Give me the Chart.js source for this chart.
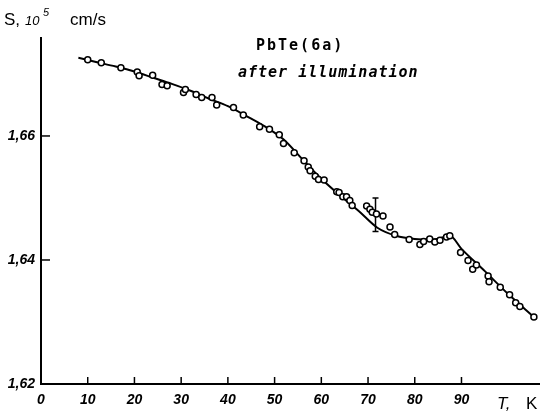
<!DOCTYPE html>
<html>
<head>
<meta charset="utf-8">
<script src="https://cdn.jsdelivr.net/npm/chart.js@4.4.1/dist/chart.umd.min.js"></script>
<style>
  body { margin: 0; background: #fff; }
  #wrap { width: 545px; height: 413px; }
</style>
</head>
<body>
<div id="wrap"><canvas id="chart" width="545" height="413"></canvas></div>
<script>
// measured points, T in K and S in 10^5 cm/s
const tPoints = [10.0, 12.9, 17.1, 20.6, 21.0, 23.9, 25.9, 27.0, 30.5, 30.9, 33.2, 34.4, 36.6, 37.6,
    41.2, 43.3, 46.8, 48.9, 51.0, 51.9, 54.2, 56.3, 57.2, 57.6, 58.7, 59.4, 60.6,
    63.3, 63.8, 64.6, 65.4, 66.1, 66.6, 69.7, 70.4, 70.9, 71.8, 73.2,
    74.7, 75.7, 78.8, 81.1, 81.9, 83.2, 84.3, 85.4, 86.8, 87.5,
    89.8, 91.4, 92.4, 93.2, 95.7, 95.9, 98.3, 100.3, 101.6, 102.5, 105.5];
const sPoints = [1.6723, 1.6718, 1.6710, 1.6703, 1.6697, 1.6698, 1.6683, 1.6681, 1.6670, 1.6675, 1.6667, 1.6662, 1.6662, 1.6650,
    1.6646, 1.6634, 1.6615, 1.6611, 1.6602, 1.6588, 1.6573, 1.6560, 1.6550, 1.6544, 1.6535, 1.6530, 1.6529,
    1.6510, 1.6509, 1.6502, 1.6502, 1.6496, 1.6488, 1.6487, 1.6482, 1.6477, 1.6474, 1.6471,
    1.6453, 1.6441, 1.6433, 1.6425, 1.6430, 1.6434, 1.6429, 1.6432, 1.6437, 1.6439,
    1.6412, 1.6399, 1.6385, 1.6392, 1.6374, 1.6365, 1.6356, 1.6344, 1.6331, 1.6325, 1.6308];

// smooth fitted curve
const tCurve = [8, 12, 16, 20, 24, 28, 32, 36, 40, 44, 48, 52, 56, 60, 64, 68, 72, 76, 80, 84, 87.5, 90, 95, 100, 105.5];
const sCurve = [1.6726, 1.6719, 1.6712, 1.6704, 1.6694, 1.6684, 1.6673, 1.6660, 1.6648, 1.6632, 1.6615, 1.6594,
    1.6562, 1.6531, 1.6504, 1.6479, 1.6452, 1.6439, 1.6434, 1.6433, 1.6439, 1.6418, 1.6382, 1.6345, 1.6308];

// error bar
const errT = [71.6, 71.6];
const errS = [1.6446, 1.6500];

const yTicks = [1.62, 1.64, 1.66];
const xTicks = [0, 10, 20, 30, 40, 50, 60, 70, 80, 90];

const toXY = (xs, ys) => xs.map((x, i) => ({ x: x, y: ys[i] }));

const tickFont = { family: 'Liberation Sans', size: 14, style: 'italic', weight: 'bold' };

// inward tick marks and text labels
const decorPlugin = {
    id: 'decor',
    afterDraw(chart) {
        const ctx = chart.ctx;
        const xs = chart.scales.x, ys = chart.scales.y;
        const area = chart.chartArea;
        ctx.save();
        ctx.strokeStyle = '#000';
        ctx.lineWidth = 1.5;
        yTicks.forEach(v => {
            if(v === 1.62) return;
            const py = ys.getPixelForValue(v);
            ctx.beginPath();
            ctx.moveTo(area.left, py);
            ctx.lineTo(area.left + 9, py);
            ctx.stroke();
        });
        xTicks.forEach(v => {
            if(v === 0) return;
            const px = xs.getPixelForValue(v);
            ctx.beginPath();
            ctx.moveTo(px, area.bottom);
            ctx.lineTo(px, area.bottom - 7);
            ctx.stroke();
        });

        ctx.fillStyle = '#000';
        ctx.textBaseline = 'alphabetic';
        ctx.textAlign = 'left';
        // y axis title
        ctx.font = '17px "Liberation Sans"';
        ctx.fillText('S,', 4, 25);
        ctx.font = 'italic 13px "Liberation Sans"';
        ctx.fillText('10', 25, 25);
        ctx.font = 'italic 11px "Liberation Sans"';
        ctx.fillText('5', 43, 16);
        ctx.font = '17px "Liberation Sans"';
        ctx.fillText('cm/s', 70, 25);
        // x axis title
        ctx.font = 'italic 17px "Liberation Sans"';
        ctx.fillText('T,', 497, 409);
        ctx.font = '17px "Liberation Sans"';
        ctx.fillText('K', 526, 409);
        // annotation
        ctx.font = 'bold 15px "DejaVu Sans Mono"';
        ctx.letterSpacing = '2px';
        ctx.fillText('PbTe(6a)', 256, 50);
        ctx.font = 'italic bold 15px "DejaVu Sans Mono"';
        ctx.letterSpacing = '1px';
        ctx.fillText('after illumination', 238, 77);
        ctx.restore();
    }
};

const ctx = document.getElementById('chart');
new Chart(ctx, {
    type: 'line',
    data: {
        datasets: [
            {
                type: 'scatter',
                data: toXY(tPoints, sPoints),
                pointStyle: 'circle',
                pointRadius: 3,
                pointBackgroundColor: '#fff',
                pointBorderColor: '#000',
                pointBorderWidth: 1.5,
                showLine: false,
                order: 0
            },
            {
                data: toXY(errT, errS),
                borderColor: '#000',
                borderWidth: 1.5,
                pointStyle: 'line',
                pointRadius: 3,
                pointBorderColor: '#000',
                pointBorderWidth: 1.5,
                order: 1
            },
            {
                data: toXY(tCurve, sCurve),
                borderColor: '#000',
                borderWidth: 2,
                pointRadius: 0,
                cubicInterpolationMode: 'monotone',
                order: 2
            }
        ]
    },
    options: {
        responsive: false,
        animation: false,
        devicePixelRatio: 1,
        layout: { padding: { top: 38, right: 5, left: 0, bottom: 0 } },
        plugins: {
            legend: { display: false },
            tooltip: { enabled: false }
        },
        scales: {
            x: {
                type: 'linear',
                min: 0,
                max: 106.7,
                grid: { display: false, drawTicks: false },
                border: { display: true, color: '#000', width: 2 },
                afterBuildTicks: s => { s.ticks = xTicks.map(v => ({ value: v })); },
                afterFit: s => { s.height = 29; },
                ticks: {
                    color: '#000',
                    font: tickFont,
                    padding: 8,
                    maxRotation: 0,
                    callback: v => String(v)
                }
            },
            y: {
                type: 'linear',
                min: 1.62,
                max: 1.6758,
                grid: { display: false, drawTicks: false },
                border: { display: true, color: '#000', width: 2 },
                afterBuildTicks: s => { s.ticks = yTicks.map(v => ({ value: v })); },
                afterFit: s => { s.width = 41; },
                ticks: {
                    color: '#000',
                    font: tickFont,
                    padding: 6,
                    callback: v => v.toFixed(2).replace('.', ',')
                }
            }
        }
    },
    plugins: [decorPlugin]
});
</script>
</body>
</html>
